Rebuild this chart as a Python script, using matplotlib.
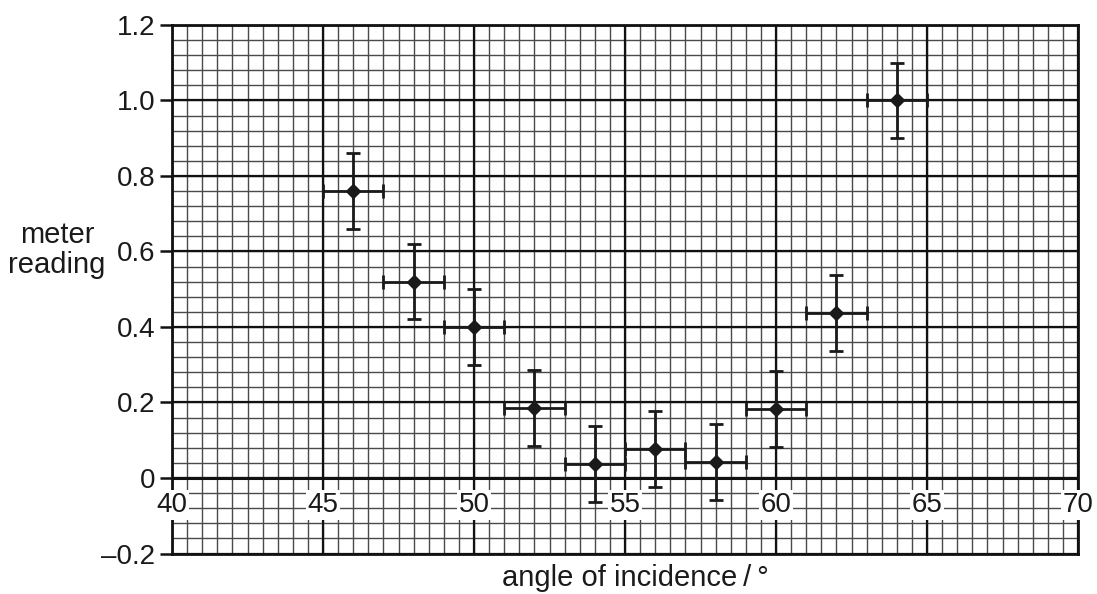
import numpy as np
import matplotlib
matplotlib.use("Agg")
import matplotlib.pyplot as plt

plt.rcParams['font.family'] = ['Liberation Sans', 'DejaVu Sans']

# data
angle = [46, 48, 50, 52, 54, 56, 58, 60, 62, 64]
reading = [0.76, 0.52, 0.40, 0.185, 0.037, 0.077, 0.042, 0.183, 0.437, 1.0]
angle_err = [1, 1, 1, 1, 1, 1, 1, 1, 1, 1]
reading_err = [0.1, 0.1, 0.1, 0.1, 0.1, 0.1, 0.1, 0.1, 0.1, 0.1]

x_ticks = [40, 45, 50, 55, 60, 65, 70]
y_ticks = [-0.2, 0, 0.2, 0.4, 0.6, 0.8, 1.0, 1.2]
y_tick_labels = ["\u20130.2", "0", "0.2", "0.4", "0.6", "0.8", "1.0", "1.2"]

fig = plt.figure(figsize=(10.97, 5.94), dpi=100)
ax = fig.add_axes([172/1097, 1 - 553.5/594, (1078-172)/1097, (553.5-25)/594])

ax.set_xlim(40, 70)
ax.set_ylim(-0.2, 1.2)

# graph paper grid
for xv in np.arange(40, 70.01, 0.5):
    ax.axvline(xv, color="#4a4a4a", lw=1.0, zorder=1)
for yv in np.arange(-0.2, 1.2001, 0.04):
    ax.axhline(yv, color="#4a4a4a", lw=1.0, zorder=1)
for xv in x_ticks:
    ax.axvline(xv, color="#111111", lw=1.6, zorder=2)
for yv in y_ticks:
    ax.axhline(yv, color="#111111", lw=1.6, zorder=2)
ax.axhline(0, color="#111111", lw=2.2, zorder=2)

for s in ax.spines.values():
    s.set_linewidth(2.0)
    s.set_color("#111111")
    s.set_zorder(3)

ax.errorbar(angle, reading, xerr=angle_err, yerr=reading_err, fmt="D",
            color="#1a1a1a", ms=7.5, elinewidth=2.0, capsize=5, capthick=2.0,
            zorder=5)

ax.set_xticks([])
ax.set_yticks(y_ticks)
ax.set_yticklabels(y_tick_labels, fontsize=20)
ax.tick_params(axis="y", direction="out", length=9, width=1.8, pad=3,
               color="#111111", labelcolor="#1a1a1a")

for xv in x_ticks:
    ax.text(xv, -0.072, str(xv), fontsize=20, ha="center", va="center",
            color="#1a1a1a", zorder=6,
            bbox=dict(facecolor="white", edgecolor="none", pad=1.5))

fig.text(57/1097, 1 - 250/594, "meter\nreading", fontsize=21,
         ha="center", va="center", color="#1a1a1a", linespacing=1.1)
fig.text(635/1097, 1 - 578/594, "angle of incidence\u2009/\u2009°", fontsize=21,
         ha="center", va="center", color="#1a1a1a")

fig.savefig("out.png", dpi=100)
